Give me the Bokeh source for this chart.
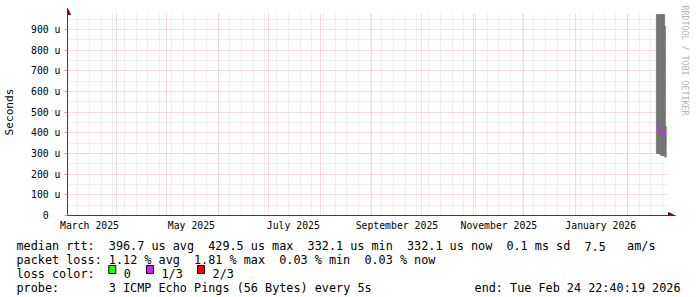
import re
from datetime import datetime, timedelta
from bokeh.plotting import figure
from bokeh.layouts import column
from bokeh.models import (Range1d, FixedTicker, Title, Arrow, NormalHead,
                          ColumnDataSource)
from bokeh.core.properties import value
from bokeh.embed import file_html
from bokeh.resources import INLINE

# ---------------- data ----------------
graph_start = "2025-03-02 20:00:00"
graph_end = "2026-02-24 22:40:19"

interval_edges = ["2026-02-18 06:00", "2026-02-18 18:00", "2026-02-19 06:00",
                  "2026-02-19 18:00", "2026-02-20 06:00", "2026-02-20 18:00",
                  "2026-02-21 06:00", "2026-02-21 18:00", "2026-02-22 06:00",
                  "2026-02-22 18:00", "2026-02-23 06:00", "2026-02-23 18:00",
                  "2026-02-24 06:00"]
smoke_top_us = [972, 972, 972, 972, 972, 972, 972, 972, 972, 972, 916, 430]
smoke_bottom_us = [300, 300, 300, 298, 296, 292, 290, 290, 288, 288, 282, 282]
median_us = [430, 428, 420, 412, 405, 398, 399, 401, 404, 402, 392, 332]

y_max_us = 977
y_ticks_us = [0, 100, 200, 300, 400, 500, 600, 700, 800, 900]
y_tick_labels = ["0", "100 u", "200 u", "300 u", "400 u", "500 u", "600 u",
                 "700 u", "800 u", "900 u"]
y_minor_us = [50, 150, 250, 350, 450, 550, 650, 750, 850, 950]

x_label_dates = ["2025-03-16", "2025-05-16", "2025-07-16", "2025-09-16",
                 "2025-11-16", "2026-01-16"]
x_labels = ["March 2025", "May 2025", "July 2025", "September 2025",
            "November 2025", "January 2026"]
month_starts = ["2025-04-01", "2025-05-01", "2025-06-01", "2025-07-01",
                "2025-08-01", "2025-09-01", "2025-10-01", "2025-11-01",
                "2025-12-01", "2026-01-01", "2026-02-01"]
first_sunday = "2025-03-09"

loss_names = ["0", "1/3", "2/3"]
loss_colors = ["#26ff00", "#d21fff", "#ff0000"]

legend_lines = [
    "median rtt:  396.7 us avg  429.5 us max  332.1 us min  332.1 us now  0.1 ms sd  7.5   am/s",
    "packet loss: 1.12 % avg  1.81 % max  0.03 % min  0.03 % now",
]
loss_title = "loss color:"
probe_line = "probe:       3 ICMP Echo Pings (56 Bytes) every 5s"
end_text = "end: Tue Feb 24 22:40:19 2026"
watermark = "RRDTOOL / TOBI OETIKER"
y_title = "Seconds"

# ---------------- helpers ----------------
EPOCH = datetime(1970, 1, 1)


def ms(s):
    return (datetime.fromisoformat(s) - EPOCH).total_seconds() * 1000.0


W, H = 697, 297
H1 = 235                            # height of the graph figure
FL, FR, FT, FB = 67, 667, 13, 215   # data area edges in canvas pixels
EXT_R, EXT_T = 8, 5                 # room for the axis arrows
MONO = "DejaVu Sans Mono"

t0, t1 = ms(graph_start), ms(graph_end)
px_per_ms = (FR - FL) / (t1 - t0)
px_per_us = (FB - FT) / y_max_us
x_ext = t1 + EXT_R / px_per_ms
y_ext = y_max_us + EXT_T / px_per_us

p = figure(width=W, height=H1, output_backend="svg", toolbar_location=None,
           x_range=Range1d(t0, x_ext), y_range=Range1d(0, y_ext),
           min_border_left=FL, min_border_right=W - FR - EXT_R,
           min_border_top=FT - EXT_T, min_border_bottom=H1 - FB,
           title=None)
p.frame_align = False
p.outline_line_color = None
p.background_fill_color = "white"
p.border_fill_color = "white"

# ---------------- grids ----------------
sundays = []
d = datetime.fromisoformat(first_sunday)
while d < datetime.fromisoformat(graph_end):
    sundays.append((d - EPOCH).total_seconds() * 1000.0)
    d += timedelta(days=7)

xg = p.xgrid[0]
xg.ticker = FixedTicker(ticks=[ms(m) for m in month_starts], minor_ticks=sundays)
yg = p.ygrid[0]
yg.ticker = FixedTicker(ticks=y_ticks_us[1:], minor_ticks=y_minor_us)
for g in (xg, yg):
    g.grid_line_color = "#eeb8b8"
    g.grid_line_dash = "1 1"
    g.grid_line_width = 1
    g.minor_grid_line_color = "#e0e0e0"
    g.minor_grid_line_dash = "1 1"
    g.minor_grid_line_width = 1

# hide the grid in the arrow room (outside the data area)
p.quad(left=[t1, t0], right=[x_ext, x_ext], bottom=[0, y_max_us],
       top=[y_ext, y_ext], fill_color="white", line_color=None)

# ---------------- axes ----------------
xa = p.xaxis[0]
xa.ticker = FixedTicker(ticks=[ms(s) for s in x_label_dates], minor_ticks=[])
xa.major_label_overrides = {ms(s): lab for s, lab in zip(x_label_dates, x_labels)}
xa.major_tick_line_color = None
xa.major_tick_out = 0
xa.major_tick_in = 0
xa.minor_tick_line_color = None
xa.axis_line_color = "#404040"
xa.major_label_text_font = MONO
xa.major_label_text_font_size = "9.8px"
xa.major_label_text_color = "black"
xa.major_label_standoff = 4

ya = p.yaxis[0]
ya.ticker = FixedTicker(ticks=y_ticks_us, minor_ticks=[])
ya.major_label_overrides = {v: (lab if lab != "0" else "0\u00a0\u00a0")
                            for v, lab in zip(y_ticks_us, y_tick_labels)}
ya.major_tick_out = 3
ya.major_tick_in = 0
ya.major_tick_line_color = "#d0a0a0"
ya.minor_tick_line_color = None
ya.axis_line_color = "#404040"
ya.major_label_text_font = MONO
ya.major_label_text_font_size = "9.8px"
ya.major_label_text_color = "black"
ya.major_label_standoff = 4
ya.axis_label = y_title
ya.axis_label_text_font = MONO
ya.axis_label_text_font_size = "11.2px"
ya.axis_label_text_font_style = "normal"
ya.axis_label_text_color = "black"
ya.axis_label_standoff = 12

# ---------------- smoke + median ----------------
edges = [ms(e) for e in interval_edges]
src = ColumnDataSource(dict(left=edges[:-1], right=edges[1:],
                            top=smoke_top_us, bottom=smoke_bottom_us))
p.quad(left="left", right="right", top="top", bottom="bottom", source=src,
       fill_color="#707070", line_color="#707070", line_width=0.5)
p.step(x=edges, y=median_us + [median_us[-1]], mode="after",
       line_color=loss_colors[1], line_width=1.1)

# ---------------- axis arrows ----------------
head_c = "#7f0000"
p.add_layout(Arrow(x_start=t0, y_start=0, x_end=t0, y_end=y_ext,
                   line_color="#404040", line_width=1,
                   end=NormalHead(size=6, fill_color=head_c, line_color=head_c)))
p.add_layout(Arrow(x_start=t0, y_start=0, x_end=t1 + (EXT_R - 1) / px_per_ms,
                   y_end=0, line_color="#404040", line_width=1,
                   end=NormalHead(size=6, fill_color=head_c, line_color=head_c)))

# watermark on the right
p.add_layout(Title(text=watermark, text_font=MONO, text_font_size="8.3px",
                   text_font_style="normal", text_color="#b4b4b4",
                   align="left", standoff=9, offset=-3), "right")

# ---------------- legend text below the graph ----------------
H2 = H - H1
q = figure(width=W, height=H2, output_backend="svg", toolbar_location=None,
           x_range=Range1d(0, W), y_range=Range1d(H, H1),
           x_axis_location=None, y_axis_location=None,
           min_border_left=0, min_border_right=0, min_border_top=0,
           min_border_bottom=0, title=None)
q.frame_align = False
q.grid.visible = False
q.outline_line_color = None
q.background_fill_color = "white"
q.border_fill_color = "white"

CH = 7.1          # monospace advance
LX = 16           # left margin of legend text
BASES = [245.7, 259.5, 273.3, 287.1]

seg_x, seg_y, seg_t, seg_a = [], [], [], []


def put_line(line, y_base, x0=LX, align="left"):
    for m in re.finditer(r"\S+(?: \S+)*", line):
        seg_x.append(x0 + m.start() * CH)
        seg_y.append(y_base)
        seg_t.append(m.group(0))
        seg_a.append(align)


put_line(legend_lines[0], BASES[0])
put_line(legend_lines[1], BASES[1])
put_line(loss_title, BASES[2])
box_cols = [13.0, 18.3, 25.5]
box_left = [LX + c * CH for c in box_cols]
for bx, name in zip(box_left, loss_names):
    seg_x.append(bx + 15)
    seg_y.append(BASES[2])
    seg_t.append(name)
    seg_a.append("left")
put_line(probe_line, BASES[3])
seg_x.append(680)
seg_y.append(BASES[3])
seg_t.append(end_text)
seg_a.append("right")

tsrc = ColumnDataSource(dict(x=seg_x, y=seg_y, text=seg_t, align=seg_a))
q.text(x="x", y="y", text="text", source=tsrc, text_font=value(MONO),
       text_font_size=value("11.8px"), text_color="black",
       text_align="align", text_baseline="alphabetic")
q.quad(left=box_left, right=[b + 7 for b in box_left],
       top=[BASES[2] - 8.3] * 3, bottom=[BASES[2] - 0.3] * 3,
       fill_color=loss_colors, line_color="black", line_width=1)

layout = column(p, q, spacing=0)
open("out.html", "w").write(file_html(layout, INLINE))
